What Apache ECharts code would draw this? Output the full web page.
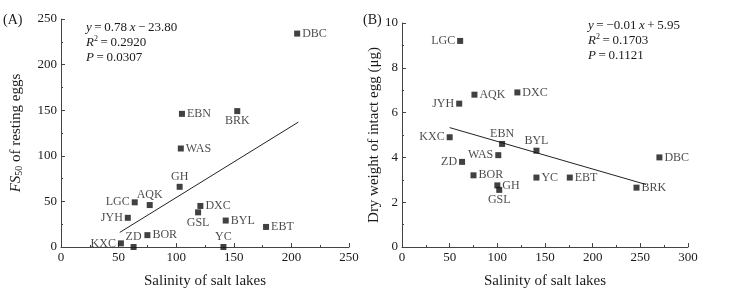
<!DOCTYPE html>
<html>
<head>
<meta charset="utf-8">
<script src="https://cdn.jsdelivr.net/npm/echarts@6/dist/echarts.min.js"></script>
<style>
  html, body { margin: 0; padding: 0; background: #fff; }
  #chart { width: 736px; height: 294px; }
</style>
</head>
<body>
<div id="chart"></div>
<script>
// panel A: FS50 of resting eggs vs salinity
const lakesA = ['DBC', 'EBN', 'BRK', 'WAS', 'GH', 'LGC', 'AQK', 'DXC', 'GSL', 'JYH', 'BYL', 'EBT', 'BOR', 'KXC', 'ZD', 'YC']
const salA   = [205, 105, 153, 104, 103, 64, 77, 121, 119, 58, 143, 178, 75, 52, 63, 141]
const fs50A  = [234, 146, 149, 108, 66, 49, 46, 45, 38, 32, 29, 22, 13, 4, 0, 0]
const fitAx  = [51, 206]
const fitAy  = [16.0, 136.9]

// panel B: dry weight of intact egg vs salinity
const lakesB = ['LGC', 'AQK', 'DXC', 'JYH', 'KXC', 'EBN', 'BYL', 'WAS', 'DBC', 'ZD', 'BOR', 'YC', 'EBT', 'GH', 'GSL', 'BRK']
const salB   = [61, 76, 121, 60, 50, 105, 141, 101, 270, 63, 75, 141, 176, 100, 102, 246]
const dryB   = [9.2, 6.8, 6.9, 6.4, 4.9, 4.6, 4.3, 4.1, 4.0, 3.8, 3.2, 3.1, 3.1, 2.75, 2.55, 2.65]
const fitBx  = [50, 256]
const fitBy  = [5.33, 2.79]

const xTicksA = [0, 50, 100, 150, 200, 250]
const yTicksA = [0, 50, 100, 150, 200, 250]
const xTicksB = [0, 50, 100, 150, 200, 250, 300]
const yTicksB = [0, 2, 4, 6, 8, 10]

// where each point's label sits
const placeA = { BRK: 'bottom', GH: 'top', LGC: 'left', AQK: 'top', GSL: 'bottom', JYH: 'left', KXC: 'left', ZD: 'top', YC: 'top' }
const placeB = { LGC: 'left', JYH: 'left', KXC: 'left', EBN: 'top', BYL: 'top', WAS: 'left', ZD: 'left', GSL: 'bottom' }

const FONT = '"Liberation Serif", "Times New Roman", serif'
const INK = '#1a1a1a'
const AXIS = '#444'
const T = '\u2009' // thin space used in the equations

function pts(names, xs, ys, place) {
  return names.map((n, i) => {
    const pos = place[n] || 'right'
    return {
      value: [xs[i], ys[i]], name: n,
      label: { position: pos, distance: pos === 'left' || pos === 'right' ? 2 : 1 }
    }
  })
}

function xAxis(idx, max, ticks) {
  return {
    gridIndex: idx, type: 'value', min: 0, max: max, interval: ticks[1] - ticks[0],
    name: 'Salinity of salt lakes', nameLocation: 'middle', nameGap: 27,
    nameTextStyle: { fontFamily: FONT, fontSize: 15, color: INK },
    axisLine: { lineStyle: { color: AXIS, width: 1 } },
    axisTick: { inside: true, length: 4, lineStyle: { color: AXIS } },
    minorTick: { show: true, splitNumber: 2, length: 2, lineStyle: { color: AXIS } },
    axisLabel: { fontFamily: FONT, fontSize: 13, color: INK, margin: 4 },
    splitLine: { show: false }
  }
}

function yAxis(idx, max, ticks, name, gap) {
  return {
    gridIndex: idx, type: 'value', min: 0, max: max, interval: ticks[1] - ticks[0],
    name: name, nameLocation: 'middle', nameGap: gap, nameRotate: 90,
    nameTextStyle: {
      fontFamily: FONT, fontSize: 15, color: INK,
      rich: {
        it: { fontFamily: FONT, fontSize: 15, fontStyle: 'italic', color: INK },
        sub: { fontFamily: FONT, fontSize: 10, color: INK, verticalAlign: 'bottom', padding: [6, 0, 0, 0] },
        n: { fontFamily: FONT, fontSize: 15, color: INK }
      }
    },
    axisLine: { show: true, lineStyle: { color: AXIS, width: 1 } },
    axisTick: { show: true, inside: true, length: 4, lineStyle: { color: AXIS } },
    minorTick: { show: true, splitNumber: 2, length: 2, lineStyle: { color: AXIS } },
    axisLabel: { fontFamily: FONT, fontSize: 13, color: INK, margin: 4 },
    splitLine: { show: false }
  }
}

const scatterStyle = {
  type: 'scatter', symbol: 'rect', symbolSize: 6,
  itemStyle: { color: '#111' },
  label: { show: true, formatter: '{b}', fontFamily: FONT, fontSize: 12, color: INK },
  z: 3
}

const eqText = {
  fontFamily: FONT, fontSize: 13, fill: INK, lineHeight: 15,
  rich: {
    i: { fontFamily: FONT, fontSize: 13, fontStyle: 'italic', fill: INK, lineHeight: 15 },
    s: { fontFamily: FONT, fontSize: 8, fill: INK, verticalAlign: 'top', lineHeight: 15, padding: [0, 0, 6, 0] }
  }
}

const chart = echarts.init(document.getElementById('chart'), null, { renderer: 'canvas' })
chart.setOption({
  backgroundColor: '#fff',
  animation: false,
  grid: [
    { left: 61, right: 387, top: 19, bottom: 45 },
    { left: 402, right: 48, top: 23, bottom: 44 }
  ],
  xAxis: [xAxis(0, 250, xTicksA), xAxis(1, 300, xTicksB)],
  yAxis: [
    yAxis(0, 250, yTicksA, '{it|FS}{sub|50}{n| of resting eggs}', 37),
    yAxis(1, 10, yTicksB, 'Dry weight of intact egg (μg)', 20)
  ],
  series: [
    Object.assign({}, scatterStyle, { xAxisIndex: 0, yAxisIndex: 0, data: pts(lakesA, salA, fs50A, placeA) }),
    Object.assign({}, scatterStyle, { xAxisIndex: 1, yAxisIndex: 1, data: pts(lakesB, salB, dryB, placeB) }),
    { type: 'line', xAxisIndex: 0, yAxisIndex: 0, symbol: 'none', silent: true,
      lineStyle: { color: '#222', width: 1 }, data: fitAx.map((x, i) => [x, fitAy[i]]) },
    { type: 'line', xAxisIndex: 1, yAxisIndex: 1, symbol: 'none', silent: true,
      lineStyle: { color: '#222', width: 1 }, data: fitBx.map((x, i) => [x, fitBy[i]]) }
  ],
  graphic: [
    { type: 'text', left: 3, top: 13, style: { text: '(A)', fontFamily: FONT, fontSize: 14, fill: INK } },
    { type: 'text', left: 363, top: 13, style: { text: '(B)', fontFamily: FONT, fontSize: 14, fill: INK } },
    { type: 'text', left: 86, top: 20, style: Object.assign({}, eqText, {
      text: '{i|y}' + T + '=' + T + '0.78' + T + '{i|x}' + T + '−' + T + '23.80\n{i|R}{s|2}' + T + '=' + T + '0.2920\n{i|P}' + T + '=' + T + '0.0307' }) },
    { type: 'text', left: 588, top: 18, style: Object.assign({}, eqText, {
      text: '{i|y}' + T + '=' + T + '−0.01' + T + '{i|x}' + T + '+' + T + '5.95\n{i|R}{s|2}' + T + '=' + T + '0.1703\n{i|P}' + T + '=' + T + '0.1121' }) }
  ]
})
</script>
</body>
</html>
